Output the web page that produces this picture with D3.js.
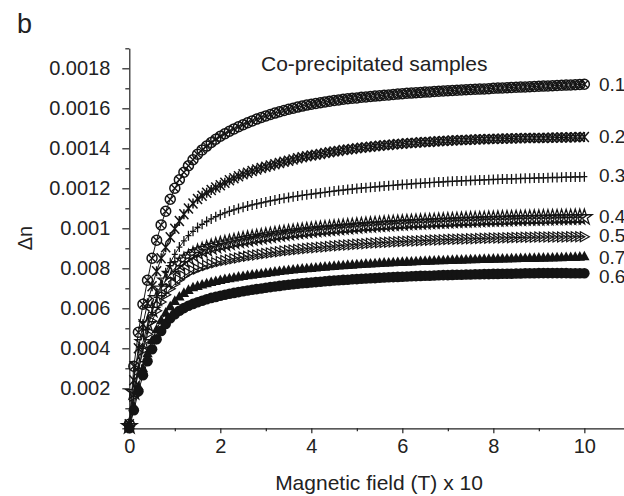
<!DOCTYPE html>
<html>
<head>
<meta charset="utf-8">
<script src="https://cdn.jsdelivr.net/npm/d3@7"></script>
<style>
  body { margin: 0; background: #fff; }
  svg { display: block; font-family: "Liberation Sans", Arial, sans-serif; }
  .axis text { font-size: 20px; fill: #222; }
  .axis path, .axis line { stroke: #222; stroke-width: 1.2; }
</style>
</head>
<body>
<svg width="624" height="496"></svg>
<script>
const width = 624;
const height = 496;

/* magnetic field (T) x 10 */
const field = [0,0.1,0.2,0.3,0.4,0.5,0.6,0.7,0.8,0.9,
  1,1.1,1.2,1.3,1.4,1.5,1.6,1.7,1.8,1.9,
  2,2.1,2.2,2.3,2.4,2.5,2.6,2.7,2.8,2.9,
  3,3.1,3.2,3.3,3.4,3.5,3.6,3.7,3.8,3.9,
  4,4.1,4.2,4.3,4.4,4.5,4.6,4.7,4.8,4.9,
  5,5.1,5.2,5.3,5.4,5.5,5.6,5.7,5.8,5.9,
  6,6.1,6.2,6.3,6.4,6.5,6.6,6.7,6.8,6.9,
  7,7.1,7.2,7.3,7.4,7.5,7.6,7.7,7.8,7.9,
  8,8.1,8.2,8.3,8.4,8.5,8.6,8.7,8.8,8.9,
  9,9.1,9.2,9.3,9.4,9.5,9.6,9.7,9.8,9.9,
  10];

/* birefringence, delta n x 10^6, one array per sample */
const dn01 = [20,310,480,620,740,850,940,1017,1085,1145,
  1200,1243,1280,1313,1343,1370,1392,1411,1429,1445,
  1460,1473,1485,1497,1508,1518,1528,1537,1546,1554,
  1562,1569,1576,1583,1589,1595,1600,1606,1611,1616,
  1620,1624,1628,1632,1635,1639,1642,1645,1648,1650,
  1652,1655,1657,1659,1661,1663,1665,1667,1669,1671,
  1673,1675,1676,1678,1679,1681,1682,1684,1685,1687,
  1688,1689,1690,1692,1693,1694,1695,1696,1697,1698,
  1700,1701,1702,1703,1704,1705,1706,1707,1708,1709,
  1710,1711,1712,1713,1714,1715,1716,1717,1718,1719,
  1720];
const dn02 = [20,240,400,520,625,710,785,850,905,955,
  998,1037,1070,1099,1124,1146,1163,1178,1192,1204,
  1215,1228,1240,1250,1260,1270,1278,1286,1294,1301,
  1308,1314,1320,1327,1333,1338,1344,1350,1355,1360,
  1364,1368,1372,1376,1380,1384,1387,1391,1394,1397,
  1400,1403,1405,1408,1410,1413,1415,1417,1419,1421,
  1423,1425,1426,1428,1430,1431,1432,1434,1435,1437,
  1438,1439,1440,1441,1442,1443,1444,1445,1445,1446,
  1447,1448,1448,1449,1449,1450,1450,1451,1451,1452,
  1452,1452,1453,1453,1454,1454,1454,1455,1455,1456,
  1456];
const dn03 = [15,160,290,400,495,580,655,720,778,828,
  870,906,937,963,985,1004,1020,1034,1047,1058,
  1068,1077,1085,1092,1099,1105,1111,1117,1122,1127,
  1132,1137,1141,1146,1150,1154,1158,1161,1165,1168,
  1171,1174,1177,1180,1183,1186,1189,1191,1194,1196,
  1199,1201,1203,1205,1207,1209,1211,1213,1215,1217,
  1219,1220,1222,1224,1225,1227,1228,1230,1231,1232,
  1234,1235,1236,1237,1238,1239,1240,1241,1242,1243,
  1244,1245,1246,1247,1247,1248,1249,1250,1250,1251,
  1252,1252,1253,1254,1254,1255,1256,1256,1257,1257,
  1258];
const dn04 = [10,180,320,430,520,592,650,698,738,772,
  800,820,838,853,867,880,889,897,905,912,
  918,923,928,933,938,942,946,950,954,957,
  961,964,968,971,974,977,980,983,985,988,
  990,993,995,997,999,1001,1003,1005,1007,1009,
  1011,1013,1015,1016,1018,1019,1021,1022,1024,1025,
  1026,1028,1029,1030,1031,1032,1033,1034,1035,1036,
  1037,1038,1039,1040,1041,1042,1042,1043,1044,1045,
  1045,1046,1047,1047,1048,1049,1049,1050,1050,1051,
  1051,1052,1052,1053,1053,1054,1054,1054,1055,1055,
  1055];
const dn05 = [10,160,290,390,470,535,588,632,668,698,
  722,743,761,776,789,797,806,814,821,828,
  834,839,843,848,852,856,860,864,867,870,
  874,877,880,883,886,889,891,894,896,899,
  901,903,905,907,909,911,913,915,917,918,
  920,922,923,925,926,928,929,930,932,933,
  934,935,936,937,938,939,940,941,942,943,
  944,945,945,946,947,948,948,949,950,950,
  951,952,952,953,953,954,954,955,955,955,
  956,956,956,957,957,957,957,958,958,958,
  958];
const dn07 = [5,110,210,300,375,440,495,540,578,610,
  637,659,677,692,705,712,719,725,731,736,
  741,746,750,754,758,761,765,768,771,774,
  777,780,783,786,789,791,794,796,798,800,
  802,804,806,808,810,812,814,815,817,818,
  820,821,823,824,825,827,828,829,830,831,
  832,833,834,835,836,837,838,839,840,840,
  841,842,843,843,844,845,845,846,847,847,
  848,848,849,849,850,850,851,851,852,852,
  853,853,854,854,855,855,856,856,857,858,
  860];
const dn06 = [0,90,185,265,335,395,445,487,522,550,
  570,588,601,613,622,630,638,645,652,657,
  663,668,673,677,681,685,689,693,696,699,
  703,706,709,712,715,718,720,723,725,727,
  729,731,733,735,737,739,740,742,743,745,
  746,748,749,750,751,753,754,755,756,757,
  758,759,760,761,762,763,763,764,765,766,
  766,767,768,768,769,769,770,770,771,771,
  772,772,773,773,773,774,774,775,775,775,
  776,776,776,776,776,776,776,775,775,775,
  775];

const sampleNames = ['0.1', '0.2', '0.3', '0.4', '0.5', '0.7', '0.6'];
const sampleValues = [dn01, dn02, dn03, dn04, dn05, dn07, dn06];

const xMajorTicks = [0, 2, 4, 6, 8, 10];
const xMinorTicks = [1, 3, 5, 7, 9];
const yMajorTicks = [0, 200, 400, 600, 800, 1000, 1200, 1400, 1600, 1800];
const yMinorTicks = [100, 300, 500, 700, 900, 1100, 1300, 1500, 1700, 1900];
/* tick labels as printed on the original figure */
const yTickLabels = ['', '0.002', '0.004', '0.006', '0.008', '0.001', '0.0012', '0.0014', '0.0016', '0.0018'];

/* small vertical nudges (px) so the crowded end labels do not collide */
const labelNudge = [-1, -2, -2, -2, -2, 0, 2];

const svg = d3.select('svg');

const xScale = d3.scaleLinear().domain([0, 10.9]).range([129.3, 625.3]);
const yScale = d3.scaleLinear().domain([0, 1900]).range([428.3, 48.3]);

/* marker shapes (open ones are unfilled, so they mesh when they overlap) */
const ink = '#141414';
const markers = {
  '0.1': g => {
    g.append('circle').attr('r', 5).attr('fill', 'none').attr('stroke', ink).attr('stroke-width', 1.5);
    g.append('path').attr('d', 'M-3.5,-3.5L3.5,3.5M-3.5,3.5L3.5,-3.5').attr('stroke', ink).attr('stroke-width', 1.3);
  },
  '0.2': g => {
    g.append('path').attr('d', 'M-4.5,-5L4.5,5M-4.5,5L4.5,-5M0,-5L0,5').attr('stroke', ink).attr('stroke-width', 1.5);
  },
  '0.3': g => {
    g.append('path').attr('d', 'M0,-5L0,5M-3,0L3,0').attr('stroke', ink).attr('stroke-width', 1.3);
  },
  '0.4': g => {
    g.append('path').attr('d', d3.symbol(d3.symbolStar, 75)()).attr('fill', 'none').attr('stroke', ink).attr('stroke-width', 1.3);
  },
  '0.5': g => {
    g.append('path').attr('d', 'M-4,-5L5,0L-4,5Z').attr('fill', 'none').attr('stroke', ink).attr('stroke-width', 1.2);
  },
  '0.7': g => {
    g.append('path').attr('d', 'M0,-5.6L5.2,4L-5.2,4Z').attr('fill', ink);
  },
  '0.6': g => {
    g.append('circle').attr('r', 5.3).attr('fill', ink);
  }
};

/* x axis */
svg.append('g')
  .attr('class', 'axis')
  .attr('transform', 'translate(0,428.3)')
  .call(d3.axisBottom(xScale).tickValues(xMajorTicks).tickSizeInner(5).tickSizeOuter(0).tickPadding(6));
svg.append('g')
  .attr('class', 'axis')
  .attr('transform', 'translate(0,428.3)')
  .call(d3.axisBottom(xScale).tickValues(xMinorTicks).tickSize(3).tickFormat(''))
  .select('.domain').remove();

/* y axis */
svg.append('g')
  .attr('class', 'axis')
  .attr('transform', 'translate(129.3,0)')
  .call(d3.axisLeft(yScale).tickValues(yMajorTicks).tickSizeInner(7).tickSizeOuter(0).tickPadding(12)
    .tickFormat((d, i) => yTickLabels[i]));
svg.append('g')
  .attr('class', 'axis')
  .attr('transform', 'translate(129.3,0)')
  .call(d3.axisLeft(yScale).tickValues(yMinorTicks).tickSize(4).tickFormat(''))
  .select('.domain').remove();

/* curves */
const line = d3.line()
  .x((d, i) => xScale(field[i]))
  .y(d => yScale(d));

sampleNames.forEach((name, k) => {
  const values = sampleValues[k];
  const grp = svg.append('g').attr('class', 'series');
  grp.append('path')
    .attr('d', line(values))
    .attr('fill', 'none')
    .attr('stroke', ink)
    .attr('stroke-width', 1);
  grp.selectAll('g.pt')
    .data(values)
    .enter()
    .append('g')
      .attr('class', 'pt')
      .attr('transform', (d, i) => `translate(${xScale(field[i])},${yScale(d)})`)
      .each(function() { markers[name](d3.select(this)); });

  /* sample label at end of curve */
  svg.append('text')
    .attr('x', 599)
    .attr('y', yScale(values[values.length - 1]) + 1 + labelNudge[k])
    .attr('dominant-baseline', 'central')
    .style('font-size', '19px')
    .style('fill', '#222')
    .text(name);
});

/* titles */
svg.append('text')
  .attr('x', 17)
  .attr('y', 33)
  .style('font-size', '27px')
  .style('fill', '#222')
  .text('b');

svg.append('text')
  .attr('x', 261)
  .attr('y', 71)
  .style('font-size', '21px')
  .style('fill', '#222')
  .text('Co-precipitated samples');

svg.append('text')
  .attr('x', 379)
  .attr('y', 490)
  .style('text-anchor', 'middle')
  .style('font-size', '21px')
  .style('fill', '#222')
  .text('Magnetic field (T) x 10');

svg.append('text')
  .attr('transform', 'translate(32,238) rotate(-90)')
  .style('text-anchor', 'middle')
  .style('font-size', '20px')
  .style('fill', '#222')
  .text('Δn');
</script>
</body>
</html>
